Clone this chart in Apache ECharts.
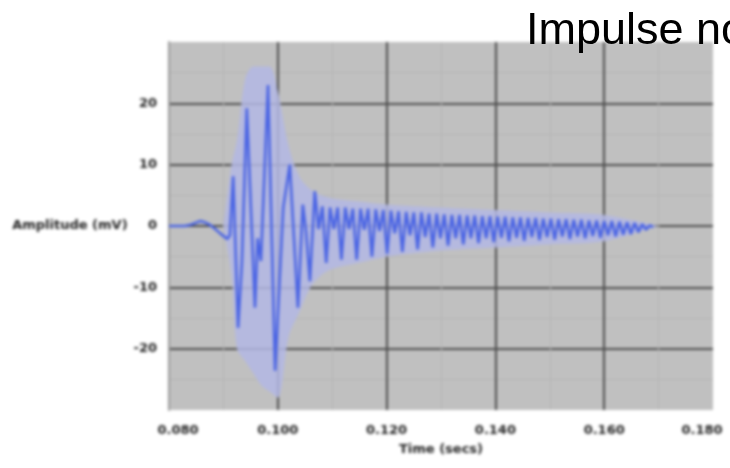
<!DOCTYPE html>
<html>
<head>
<meta charset="utf-8">
<title>Impulse noise</title>
<script src="https://cdn.jsdelivr.net/npm/echarts@6/dist/echarts.min.js"></script>
<style>
  html, body { margin: 0; padding: 0; background: #fff; }
  #wrap { position: relative; width: 730px; height: 468px; overflow: hidden; }
  #chart { position: absolute; left: 0; top: 0; width: 730px; height: 468px; filter: blur(1.4px); }
  #title { position: absolute; left: 0; top: 0; width: 730px; height: 468px; pointer-events: none; }
</style>
</head>
<body>
<div id="wrap">
  <div id="chart"></div>
  <div id="title"></div>
</div>
<script>
// x ticks and y ticks
const xTicks = [0.08, 0.10, 0.12, 0.14, 0.16, 0.18]
const yTicks = [-30, -20, -10, 0, 10, 20, 30]

// impulse response, time (s) / amplitude (mV)
const signalTime = [
  0.0800, 0.0829, 0.0840, 0.0857, 0.0866, 0.0875, 0.0885, 0.0894, 0.0907, 0.0912,
  0.0918, 0.0927, 0.0934, 0.0943, 0.0958, 0.0963, 0.0969, 0.0982, 0.0995, 0.1010,
  0.1022, 0.1037, 0.1046, 0.1052, 0.1059, 0.1068, 0.1075, 0.1082, 0.1089, 0.1096,
  0.1103, 0.1110, 0.1117, 0.1124, 0.1131, 0.1138, 0.1145, 0.1152, 0.1159, 0.1166,
  0.1173, 0.1180, 0.1187, 0.1194, 0.1201, 0.1208, 0.1215, 0.1222, 0.1229, 0.1236,
  0.1243, 0.1250, 0.1257, 0.1264, 0.1271, 0.1278, 0.1285, 0.1292, 0.1299, 0.1306,
  0.1313, 0.1320, 0.1327, 0.1334, 0.1341, 0.1348, 0.1355, 0.1362, 0.1369, 0.1376,
  0.1383, 0.1390, 0.1397, 0.1404, 0.1411, 0.1418, 0.1425, 0.1432, 0.1439, 0.1446,
  0.1453, 0.1460, 0.1467, 0.1474, 0.1481, 0.1488, 0.1495, 0.1502, 0.1509, 0.1516,
  0.1523, 0.1530, 0.1537, 0.1544, 0.1551, 0.1558, 0.1565, 0.1572, 0.1579, 0.1586,
  0.1593, 0.1600, 0.1607, 0.1614, 0.1621, 0.1628, 0.1635, 0.1642, 0.1649, 0.1656,
  0.1663, 0.1670, 0.1677, 0.1684, 0.1690
]
const signalValue = [
  0, 0, 0.2, 0.8, 0.6, 0.2, -0.5, -1.2, -2.1, -1.5,
  8.1, -16.6, -6, 19.2, -13.3, -2, -5.7, 23, -23.6, 3,
  10, -13.3, 3.5, -1, -9, 5.7, -0.5, 3.2, -6, 3,
  -0.5, 3, -5.5, 3, -0.5, 2.8, -5.5, 2.8, -0.6, 2.8,
  -5, 2.7, -0.8, 2.6, -4.5, 2.5, -1.2, 2.4, -4.2, 2.3,
  -1.5, 2.2, -3.8, 2.2, -1.8, 2.0, -3.5, 2.0, -2.0, 1.9,
  -3.2, 1.8, -2.0, 1.8, -3.0, 1.7, -2.0, 1.7, -2.8, 1.6,
  -2.0, 1.6, -2.6, 1.5, -1.9, 1.5, -2.5, 1.4, -1.9, 1.4,
  -2.4, 1.3, -1.8, 1.3, -2.3, 1.2, -1.8, 1.2, -2.2, 1.1,
  -1.7, 1.1, -2.1, 1.0, -1.7, 1.0, -2.0, 0.9, -1.6, 0.9,
  -1.9, 0.8, -1.5, 0.8, -1.7, 0.7, -1.4, 0.6, -1.3, 0.5,
  -1.0, 0.3, -0.6, 0.1, -0.2
]

// light envelope round the signal
const envTime = [0.0900, 0.0915, 0.0925, 0.0940, 0.0955, 0.0970, 0.0985, 0.1000, 0.1020, 0.1040,
  0.1060, 0.1080, 0.1100, 0.1150, 0.1200, 0.1300, 0.1400, 0.1500, 0.1600, 0.1700]
const envUpper = [0, 10, 14, 24, 26, 26, 26, 22, 13, 8, 6, 5, 4.5, 4, 3.5, 3, 2.6, 2.2, 1.8, 0]
const envLower = [0, -8, -20, -22, -24, -26, -27, -28, -18, -14, -10, -8, -7, -6, -5, -4, -3.5, -3, -2.5, 0]

const pairs = (xs, ys) => xs.map((x, i) => [x, ys[i]])

const labelFont = { fontFamily: 'DejaVu Sans', fontSize: 13, fontWeight: 'bold', color: '#222' }

const chart = echarts.init(document.getElementById('chart'))
chart.setOption({
  animation: false,
  backgroundColor: '#fff',
  grid: {
    left: 169, right: 17, top: 42, bottom: 58,
    show: true, backgroundColor: '#c0c0c0', borderWidth: 0,
    containLabel: false, outerBoundsMode: 'none'
  },
  xAxis: {
    type: 'value',
    min: xTicks[0], max: xTicks[xTicks.length - 1], interval: 0.02,
    name: 'Time (secs)', nameLocation: 'middle', nameGap: 33,
    nameTextStyle: labelFont,
    axisLine: { show: false }, axisTick: { show: false },
    axisLabel: Object.assign({}, labelFont, {
      margin: 14,
      formatter: function(v) {
        const s = v.toFixed(3)
        if (Math.abs(v - xTicks[0]) < 1e-9) return '{first|' + s + '}'
        if (Math.abs(v - xTicks[xTicks.length - 1]) < 1e-9) return '{last|' + s + '}'
        return s
      },
      rich: {
        first: Object.assign({}, labelFont, { padding: [0, 0, 0, 18] }),
        last: Object.assign({}, labelFont, { padding: [0, 22, 0, 0] })
      }
    }),
    splitLine: { show: true, showMinLine: false, showMaxLine: false, lineStyle: { color: '#4a4a4a', width: 2 } },
    minorTick: { show: false, splitNumber: 2 },
    minorSplitLine: { show: true, lineStyle: { color: '#b4b4b4', width: 1 } }
  },
  yAxis: {
    type: 'value',
    min: yTicks[0], max: yTicks[yTicks.length - 1], interval: 10,
    name: 'Amplitude (mV)', nameLocation: 'middle', nameRotate: 0, nameGap: 41,
    nameTextStyle: Object.assign({}, labelFont, { align: 'right' }),
    axisLine: { show: true, lineStyle: { color: '#9a9a9a', width: 2 } },
    axisTick: { show: false },
    axisLabel: Object.assign({}, labelFont, {
      margin: 12,
      formatter: function(v) {
        return Math.abs(v) >= 30 ? '' : String(v)
      }
    }),
    splitLine: { show: true, showMinLine: false, showMaxLine: false, lineStyle: { color: '#4a4a4a', width: 2 } },
    minorTick: { show: false, splitNumber: 2 },
    minorSplitLine: { show: true, lineStyle: { color: '#b4b4b4', width: 1 } }
  },
  series: [
    {
      name: 'envUp', type: 'line', showSymbol: false, smooth: 0.3,
      data: pairs(envTime, envUpper),
      lineStyle: { width: 0 },
      areaStyle: { origin: 0, color: '#b3b7e4', opacity: 0.85 },
      z: 1
    },
    {
      name: 'envLow', type: 'line', showSymbol: false, smooth: 0.3,
      data: pairs(envTime, envLower),
      lineStyle: { width: 0 },
      areaStyle: { origin: 0, color: '#b3b7e4', opacity: 0.85 },
      z: 1
    },
    {
      name: 'signal', type: 'line', showSymbol: false,
      data: pairs(signalTime, signalValue),
      lineStyle: { color: '#4a64e4', width: 2.6 },
      z: 3
    }
  ]
})

// title sits crisp on top of the blurry picture
const titleChart = echarts.init(document.getElementById('title'))
titleChart.setOption({
  animation: false,
  title: {
    text: 'Impulse noise',
    left: 521, top: 4,
    textStyle: { fontFamily: 'Liberation Sans', fontSize: 45, fontWeight: 'normal', color: '#000' }
  }
})
</script>
</body>
</html>
